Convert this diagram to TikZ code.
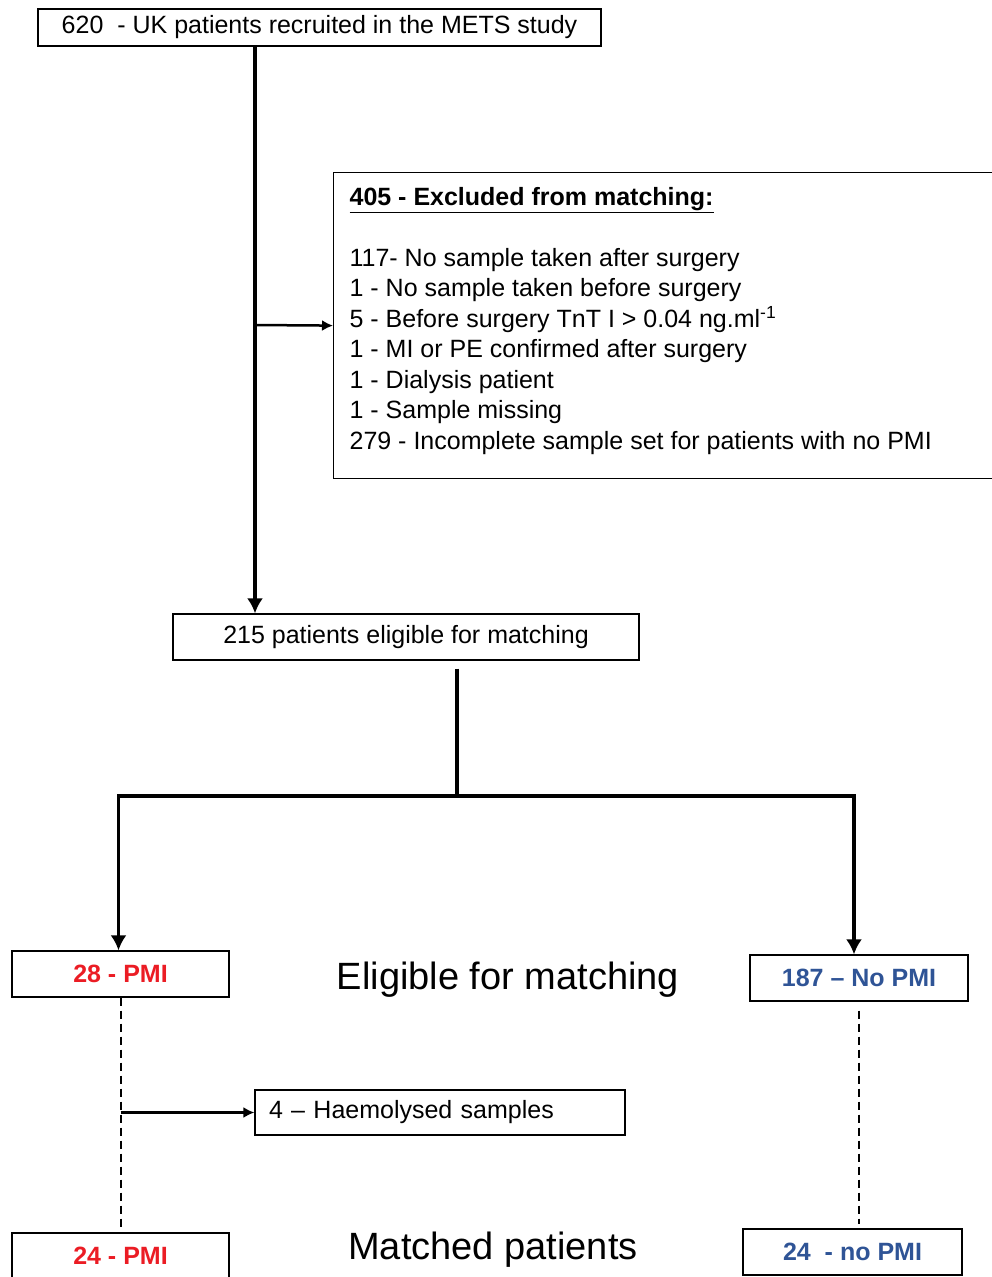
\documentclass[tikz,border=0pt]{standalone}
\usepackage{fontspec}
\setmainfont{Liberation Sans}
\usetikzlibrary{positioning,arrows.meta}
\definecolor{pmired}{RGB}{235,28,36}
\definecolor{nopmiblue}{RGB}{47,84,150}

\begin{document}
\begin{tikzpicture}[x=1pt,y=-1pt,line width=1.5pt,
  box/.style={draw,line width=1.2pt,inner sep=0pt,font=\fontsize{25}{30.5}\selectfont},
  groupbox/.style={box,minimum width=217,minimum height=46,font=\fontsize{25}{30}\selectfont\bfseries},
  caption/.style={font=\fontsize{38}{44}\selectfont},
  trunk/.style={line width=3.5pt},
  bigtip/.style={-{Latex[length=15pt,width=16pt]}},
  branch/.style={line width=2.5pt,-{Latex[length=11pt,width=11pt]}},
  dashline/.style={line width=2pt,dash pattern=on 8pt off 5pt}]
\useasboundingbox (0,0) rectangle (991,1277);

% boxes
\node[box,minimum width=563,minimum height=37] (recruit) at (319.5,27.5) {620\ \ - UK patients recruited in the METS study};
\node[box,anchor=north west,minimum width=662,minimum height=306,inner xsep=15pt] (excluded) at (333,172) {%
\begin{minipage}{630pt}\raggedright
\textbf{\underline{405 - Excluded from matching:}}\\[30.5pt]
117- No sample taken after surgery\\
1 - No sample taken before surgery\\
5 - Before surgery TnT I > 0.04 ng.ml\textsuperscript{-1}\\
1 - MI or PE confirmed after surgery\\
1 - Dialysis patient\\
1 - Sample missing\\
279 - Incomplete sample set for patients with no PMI\par
\vspace{10pt}
\end{minipage}};
\node[box,minimum width=466,minimum height=46] (eligible) at (406,637) {215 patients eligible for matching};

\node[groupbox,text=pmired] (pmi) at (120.5,974) {28 - PMI};
\node[groupbox,text=nopmiblue,minimum width=218] (nopmi) at (859,978) {187 -- No PMI};
\node[caption] (eligtext) at (508,980) {Eligible for matching};

\node[box,minimum width=370,minimum height=45,text width=342,align=left,inner xsep=14pt] (haem) at (440,1112.5) {4 -- Haemolysed samples};

\node[groupbox,text=pmired] (pmimatch) at (120.5,1256) {24 - PMI};
\node[groupbox,text=nopmiblue,minimum width=219] (nopmimatch) at (852.5,1252) {24\ \ - no PMI};
\node[caption] (matchtext) at (493,1250) {Matched patients};

% connectors
\coordinate (split) at (255,325);
\coordinate (fork) at (457,796);
\draw[trunk,bigtip] (recruit.south -| split) -- (eligible.north -| split);
\draw[branch] (split) -- (excluded.west);
\draw[trunk] ([yshift=-8pt]eligible.south -| fork) -- (fork);
\draw[trunk,bigtip] (fork) -| ([xshift=-2pt]pmi.north);
\draw[trunk,bigtip] (fork) -| ([xshift=-5pt]nopmi.north);
\draw[dashline,shorten >=5pt] (pmi.south) -- (pmimatch.north);
\draw[dashline,shorten <=9pt,shorten >=4pt] (nopmi.south) -- (nopmi.south |- nopmimatch.north);
\draw[branch] (pmi.south |- haem.west) -- (haem.west);
\end{tikzpicture}
\end{document}
